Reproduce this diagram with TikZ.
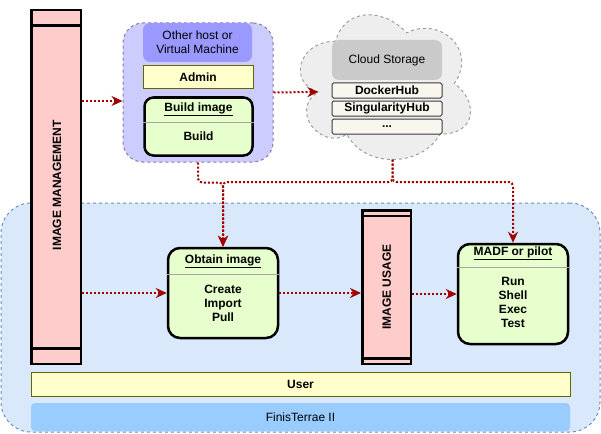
\documentclass[tikz,border=0pt]{standalone}
\usepackage{fontspec}
\setmainfont{Liberation Sans}
\usetikzlibrary{arrows.meta,calc,positioning}
\definecolor{mgmtpink}{HTML}{FFCCCC}
\definecolor{hostfill}{HTML}{CCCCFF}
\definecolor{hostdraw}{HTML}{9673A6}
\definecolor{vmfill}{HTML}{9999FF}
\definecolor{userfill}{HTML}{FFFFCC}
\definecolor{userdraw}{HTML}{666600}
\definecolor{taskfill}{HTML}{E6FFCC}
\definecolor{cloudfill}{HTML}{EEEEEE}
\definecolor{clouddraw}{HTML}{9E9E9E}
\definecolor{storefill}{HTML}{CACACA}
\definecolor{hubfill}{HTML}{F9F7ED}
\definecolor{hubdraw}{HTML}{36393D}
\definecolor{clusterfill}{HTML}{DAE8FC}
\definecolor{clusterdraw}{HTML}{6C8EBF}
\definecolor{finisfill}{HTML}{99CCFF}
\definecolor{darkred}{HTML}{A00000}
\tikzset{
  boldtext/.style={font=\fontsize{12}{14}\selectfont\bfseries, align=center},
  phasebar/.style={draw, fill=mgmtpink, line width=2.5pt, minimum width=49.5pt, inner sep=0pt},
  taskbox/.style={draw, fill=taskfill, line width=2.5pt, rounded corners=12pt, minimum width=110pt, inner sep=0pt},
  hubbox/.style={draw=hubdraw, fill=hubfill, line width=1pt, rounded corners=1.5pt, minimum width=110pt, minimum height=15pt, inner sep=0pt, boldtext},
  rolebox/.style={draw=userdraw, fill=userfill, line width=1pt, inner sep=0pt, boldtext},
  sepline/.style={draw=gray!70, line width=1pt},
  flow/.style={darkred, line width=2pt, dash pattern=on 2pt off 2pt, rounded corners=4pt, -{Stealth[length=11pt,width=10pt]}}
}
\begin{document}
\begin{tikzpicture}[x=1pt,y=-1pt,font=\fontsize{12}{14}\selectfont]
  \useasboundingbox (0,0) rectangle (601,433);
  % FinisTerrae side
  \node[draw=clusterdraw, fill=clusterfill, dashed, line width=1pt, rounded corners=30pt,
        minimum width=599pt, minimum height=229pt, inner sep=0pt] (cluster) at (300.5,317.5) {};
  % other host
  \node[draw=hostdraw, fill=hostfill, dashed, line width=1pt, rounded corners=20pt,
        minimum width=150pt, minimum height=139pt, inner sep=0pt] (host) at (198,92.5) {};
  \node[fill=vmfill, rounded corners=7pt, minimum width=109pt, minimum height=39pt,
        inner sep=0pt, align=center] (vm) at (197.5,42.5) {Other host or\\Virtual Machine};
  \node[rolebox, minimum width=110pt, minimum height=23pt] (admin) at (198,77.5) {Admin};
  \node[taskbox, rounded corners=9pt, minimum width=108pt, minimum height=58pt] (build) at (198.5,126.5) {};
  \node[boldtext] (buildtitle) at (198.5,109) {\underline{Build image}};
  \draw[sepline] (build.west |- 0,122) -- (build.east |- 0,122);
  \node[boldtext] (buildcmd) at (198.5,136) {Build};
  % cloud
  \draw[draw=clouddraw, fill=cloudfill, dashed, line width=1pt]
    (335.5,41.25) .. controls (297.5,41.25) and (288,83.5) .. (318.4,91.95) coordinate (cloudin)
    .. controls (288,110.54) and (322.2,151.1) .. (346.9,134.2)
    .. controls (364,168) and (421,168) .. (440,134.2)
    .. controls (478,134.2) and (478,100.4) .. (454.25,83.5)
    .. controls (478,49.7) and (440,15.9) .. (406.75,32.8)
    .. controls (383,7.45) and (345,7.45) .. cycle;
  \coordinate (cloudout) at (392.5,159.5);
  \node[fill=storefill, rounded corners=7pt, minimum width=110pt, minimum height=40pt,
        inner sep=0pt] (storage) at (387,60) {Cloud Storage};
  \node[hubbox] (docker) at (387,90.5) {DockerHub};
  \node[hubbox] (singhub) at (387,108.5) {SingularityHub};
  \node[hubbox] (morehubs) at (387,126.5) {...};
  % image management bar
  \node[phasebar, minimum height=353.5pt] (imgmgmt) at (56,187) {};
  \draw[line width=2.5pt] ([yshift=-16.75pt]imgmgmt.north west) -- ([yshift=-16.75pt]imgmgmt.north east);
  \draw[line width=2.5pt] ([yshift=16.75pt]imgmgmt.south west) -- ([yshift=16.75pt]imgmgmt.south east);
  \node[boldtext, rotate=90] (mgmtlabel) at (57,185) {IMAGE MANAGEMENT};
  % image usage bar
  \node[phasebar, minimum width=48.5pt, minimum height=153.5pt] (usage) at (386.5,287) {};
  \draw[line width=2.5pt] ([yshift=-6.75pt]usage.north west) -- ([yshift=-6.75pt]usage.north east);
  \draw[line width=2.5pt] ([yshift=6.75pt]usage.south west) -- ([yshift=6.75pt]usage.south east);
  \node[boldtext, rotate=90] (usagelabel) at (386.7,287) {IMAGE USAGE};
  % obtain image
  \node[taskbox, minimum height=90pt] (obtain) at (223,293) {};
  \node[boldtext] (obtaintitle) at (223,261) {\underline{Obtain image}};
  \draw[sepline] (obtain.west |- 0,274) -- (obtain.east |- 0,274);
  \node[boldtext] (obtaincmds) at (223,303) {Create\\Import\\Pull};
  % MADF or pilot
  \node[taskbox, minimum height=100pt] (madf) at (513,294) {};
  \node[boldtext] (madftitle) at (513,253) {\underline{MADF or pilot}};
  \draw[sepline] (madf.west |- 0,267) -- (madf.east |- 0,267);
  \node[boldtext] (madfcmds) at (513,302) {Run\\Shell\\Exec\\Test};
  % user and cluster
  \node[rolebox, minimum width=539pt, minimum height=24pt] (user) at (300.5,384) {User};
  \node[fill=finisfill, rounded corners=4pt, minimum width=539pt, minimum height=28pt,
        inner sep=0pt] (finis) at (300.5,417) {FinisTerrae II};
  % flows
  \coordinate (mgmtout) at (imgmgmt.east |- 0,101);
  \draw[flow] (mgmtout) -- (host.west |- mgmtout);
  \draw[flow] (host.east) -- (cloudin);
  \draw[flow] (host.south) -- ++(0,20) -| (obtain.north);
  \draw[flow] (cloudout) -- ++(0,22.5) -| (obtain.north);
  \draw[flow] (cloudout) -- ++(0,22.5) -| (madf.north);
  \draw[flow] (imgmgmt.east |- obtain.west) -- (obtain.west);
  \draw[flow] (obtain.east) -- (usage.west |- obtain.east);
  \draw[flow] (usage.east |- madf.west) -- (madf.west);
\end{tikzpicture}
\end{document}
